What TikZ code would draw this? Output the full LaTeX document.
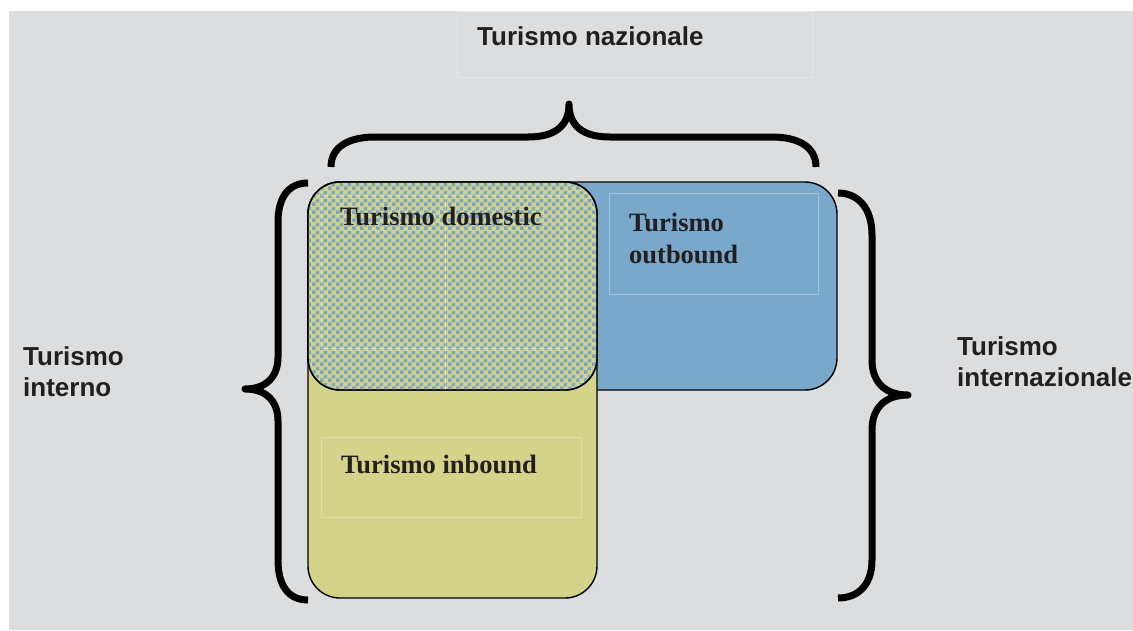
\documentclass[tikz,border=0pt]{standalone}
\usepackage{fontspec}
\setmainfont{Liberation Serif}
\newfontfamily\sanslab{Liberation Sans}
\usetikzlibrary{patterns.meta}
\definecolor{bggray}{HTML}{DCDDDF}
\definecolor{boxblue}{HTML}{7AA8CB}
\definecolor{boxyellow}{HTML}{D4D38A}
\definecolor{txtdark}{HTML}{231F20}
\tikzdeclarepattern{name=mycheck, type=uncolored, bounding box={(0pt,0pt) and (8pt,8pt)}, tile size={(8pt,8pt)},
  code={\fill (0pt,0pt) rectangle (4pt,4pt); \fill (4pt,4pt) rectangle (8pt,8pt);}}
\tikzset{
  roundbox/.style={rounded corners=32pt, draw=black, line width=1.4pt},
  faintframe/.style={draw=white, draw opacity=0.3, line width=0.6pt},
  bracepath/.style={draw=black, line width=7pt, line join=round, line cap=butt},
  sanslabel/.style={anchor=north west, inner sep=0pt, align=left, text=txtdark,
    font=\sanslab\bfseries\fontsize{26}{31}\selectfont},
  seriflabel/.style={anchor=north west, inner sep=0pt, align=left, text=txtdark,
    font=\bfseries\fontsize{26.5}{32}\selectfont},
}
\begin{document}
\begin{tikzpicture}[x=1pt,y=-1pt]
\useasboundingbox (0,0) rectangle (1133,630);
\fill[white] (0,0) rectangle (1133,630);
\fill[bggray] (9,11) rectangle (1133,630);
% faint text frames
\draw[faintframe] (457,11) rectangle (812,77);
% boxes
\path[roundbox, fill=boxblue] (308,182) rectangle (837,390);
\path[roundbox, fill=boxyellow] (308,182) rectangle (597,598);
\path[roundbox, fill=boxyellow] (308,182) rectangle (597,390);
\path[rounded corners=32pt, pattern={mycheck}, pattern color=boxblue] (308,182) rectangle (597,390);
\path[roundbox] (308,182) rectangle (597,390);
\draw[faintframe] (321,195) rectangle (566,348);
\draw[faintframe] (445,195) -- (445,390);
\draw[faintframe] (609,193) rectangle (818,294);
\draw[faintframe] (321,437) rectangle (581,517);
% braces
\draw[bracepath] (331,167) .. controls (331,146) and (350,137) .. (375,137) -- (528,137)
  .. controls (555,137) and (569,126) .. (569,104)
  .. controls (569,126) and (583,137) .. (610,137) -- (772,137)
  .. controls (797,137) and (816,146) .. (816,167);
\draw[bracepath] (308,183) .. controls (288,183) and (278,198) .. (278,222) -- (278,357)
  .. controls (278,378) and (265,389) .. (245,389)
  .. controls (265,389) and (278,400) .. (278,421) -- (278,560)
  .. controls (278,585) and (288,600) .. (308,600);
\draw[bracepath] (838,193) .. controls (858,193) and (872,208) .. (872,235) -- (872,360)
  .. controls (872,382) and (885,395) .. (908,395)
  .. controls (885,395) and (872,408) .. (872,430) -- (872,560)
  .. controls (872,585) and (858,598) .. (838,598);
% labels
\node[sanslabel] (naz) at (477,26) {Turismo nazionale};
\node[sanslabel] (int) at (23,346) {Turismo\\interno};
\node[sanslabel] (inz) at (957,336) {Turismo\\internazionale};
\node[seriflabel] (dom) at (340,207) {Turismo domestic};
\node[seriflabel] (out) at (629,213) {Turismo\\outbound};
\node[seriflabel] (inb) at (341,455) {Turismo inbound};
\end{tikzpicture}
\end{document}
